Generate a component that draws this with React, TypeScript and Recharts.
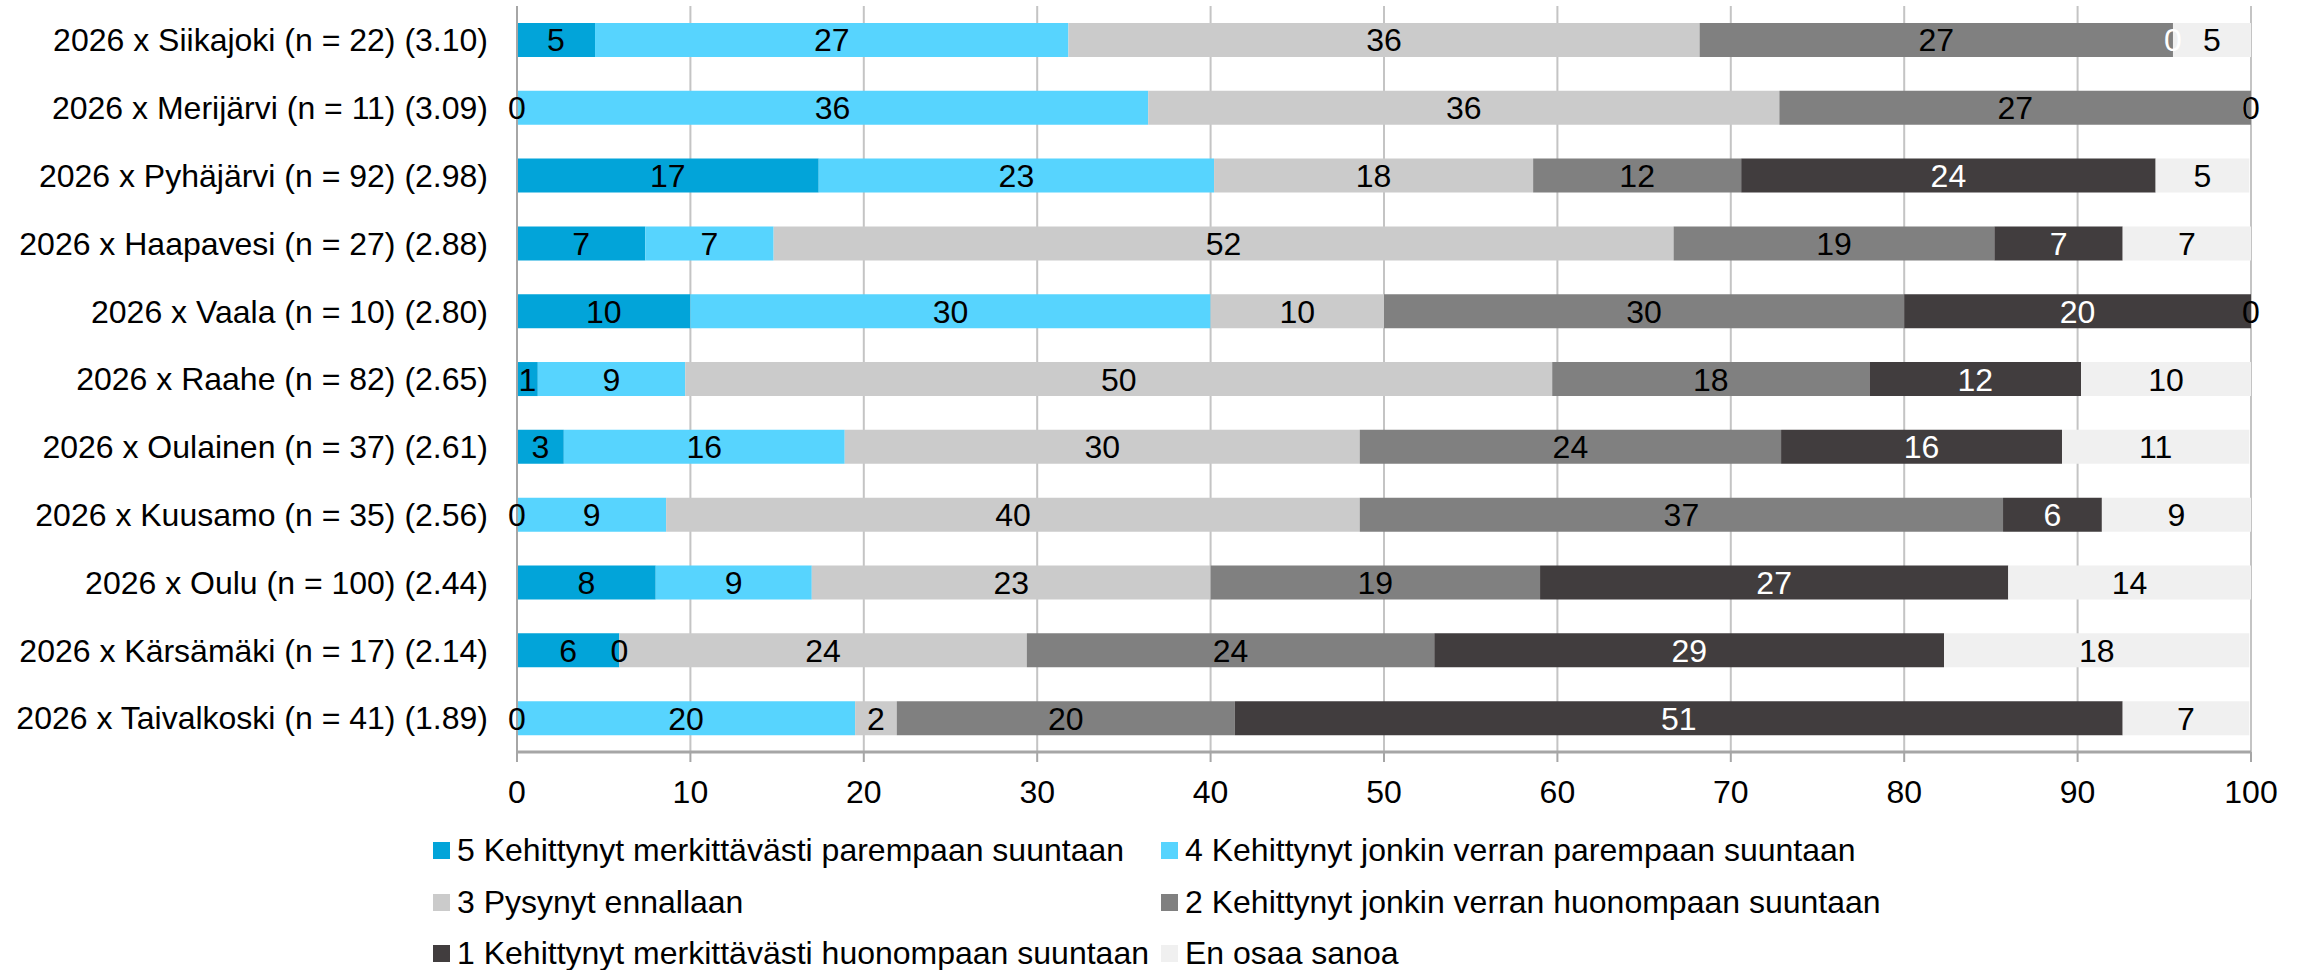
import { BarChart, Bar, XAxis, YAxis, CartesianGrid, LabelList } from 'recharts';

const categories = [
  '2026 x Siikajoki (n = 22) (3.10)',
  '2026 x Merijärvi (n = 11) (3.09)',
  '2026 x Pyhäjärvi (n = 92) (2.98)',
  '2026 x Haapavesi (n = 27) (2.88)',
  '2026 x Vaala (n = 10) (2.80)',
  '2026 x Raahe (n = 82) (2.65)',
  '2026 x Oulainen (n = 37) (2.61)',
  '2026 x Kuusamo (n = 35) (2.56)',
  '2026 x Oulu (n = 100) (2.44)',
  '2026 x Kärsämäki (n = 17) (2.14)',
  '2026 x Taivalkoski (n = 41) (1.89)',
];

const muchBetter = [4.5, 0, 17.4, 7.4, 10, 1.2, 2.7, 0, 8, 5.9, 0];
const someBetter = [27.3, 36.4, 22.8, 7.4, 30, 8.5, 16.2, 8.6, 9, 0, 19.5];
const unchanged = [36.4, 36.4, 18.4, 51.9, 10, 50.0, 29.7, 40.0, 23, 23.5, 2.4];
const someWorse = [27.3, 27.2, 12.0, 18.5, 30, 18.3, 24.3, 37.1, 19, 23.5, 19.5];
const muchWorse = [0, 0, 23.9, 7.4, 20, 12.2, 16.2, 5.7, 27, 29.4, 51.2];
const dontKnow = [4.5, 0, 5.4, 7.4, 0, 9.8, 10.8, 8.6, 14, 17.6, 7.3];

const xTicks = [0, 10, 20, 30, 40, 50, 60, 70, 80, 90, 100];

const series = [
  { key: 's5', name: '5 Kehittynyt merkittävästi parempaan suuntaan', values: muchBetter, color: '#02A4D9', text: '#000' },
  { key: 's4', name: '4 Kehittynyt jonkin verran parempaan suuntaan', values: someBetter, color: '#57D4FE', text: '#000' },
  { key: 's3', name: '3 Pysynyt ennallaan', values: unchanged, color: '#CBCBCB', text: '#000' },
  { key: 's2', name: '2 Kehittynyt jonkin verran huonompaan suuntaan', values: someWorse, color: '#808080', text: '#000' },
  { key: 's1', name: '1 Kehittynyt merkittävästi huonompaan suuntaan', values: muchWorse, color: '#413D3E', text: '#fff' },
  { key: 'eos', name: 'En osaa sanoa', values: dontKnow, color: '#F0F0F0', text: '#000' },
];

const data = categories.map((name, i) => {
  const row: Record<string, any> = { name };
  series.forEach(s => {
    row[s.key] = s.values[i];
  });
  return row;
});

const FONT = '"Liberation Sans", Arial, sans-serif';

// plain text label, so that zero-width segments still get their "0"
const makeLabel = (color: string) => (props: any) => {
  const { x, y, width, height, value } = props;
  if (value == null) return null;
  return (
    <text
      x={Number(x) + Number(width) / 2}
      y={Number(y) + Number(height) / 2}
      dy="0.36em"
      textAnchor="middle"
      fontSize={32}
      fontFamily={FONT}
      fill={color}
    >
      {String(Math.round(Number(value)))}
    </text>
  );
};

export default function App() {
  return (
    <div style={{ position: 'absolute', left: 0, top: 0, width: 2305, height: 970, background: '#fff', fontFamily: FONT }}>
      <BarChart
        width={2305}
        height={970}
        data={data}
        layout="vertical"
        margin={{ top: 6, right: 54, bottom: 158, left: 0 }}
        barCategoryGap="25%"
      >
        <CartesianGrid horizontal={false} stroke="#C4C4C4" strokeWidth={2} />
        <XAxis
          type="number"
          domain={[0, 100]}
          ticks={xTicks}
          allowDataOverflow
          height={60}
          tickSize={10}
          tickMargin={18}
          axisLine={{ stroke: '#A6A6A6', strokeWidth: 3 }}
          tickLine={{ stroke: '#A6A6A6', strokeWidth: 2 }}
          tick={{ fontSize: 32, fill: '#000', fontFamily: FONT }}
        />
        <YAxis
          type="category"
          dataKey="name"
          width={517}
          tickSize={0}
          tickMargin={29}
          axisLine={{ stroke: '#A6A6A6', strokeWidth: 2 }}
          tickLine={false}
          interval={0}
          tick={{ fontSize: 32, fill: '#000', fontFamily: FONT }}
        />
        {series.map(s => (
          <Bar
            key={s.key}
            dataKey={s.key}
            name={s.name}
            stackId="a"
            fill={s.color}
            minPointSize={0.01}
            isAnimationActive={false}
          >
            <LabelList dataKey={s.key} content={makeLabel(s.text)} />
          </Bar>
        ))}
      </BarChart>
      <div
        style={{
          position: 'absolute',
          left: 433,
          top: 825,
          display: 'grid',
          gridTemplateColumns: '728px auto',
          gridAutoRows: '51.5px',
          fontSize: 32,
          color: '#000',
        }}
      >
        {series.map(s => (
          <div key={s.key} style={{ display: 'flex', alignItems: 'center', whiteSpace: 'nowrap' }}>
            <span style={{ display: 'inline-block', width: 17, height: 17, background: s.color, marginRight: 7 }} />
            <span>{s.name}</span>
          </div>
        ))}
      </div>
    </div>
  );
}
